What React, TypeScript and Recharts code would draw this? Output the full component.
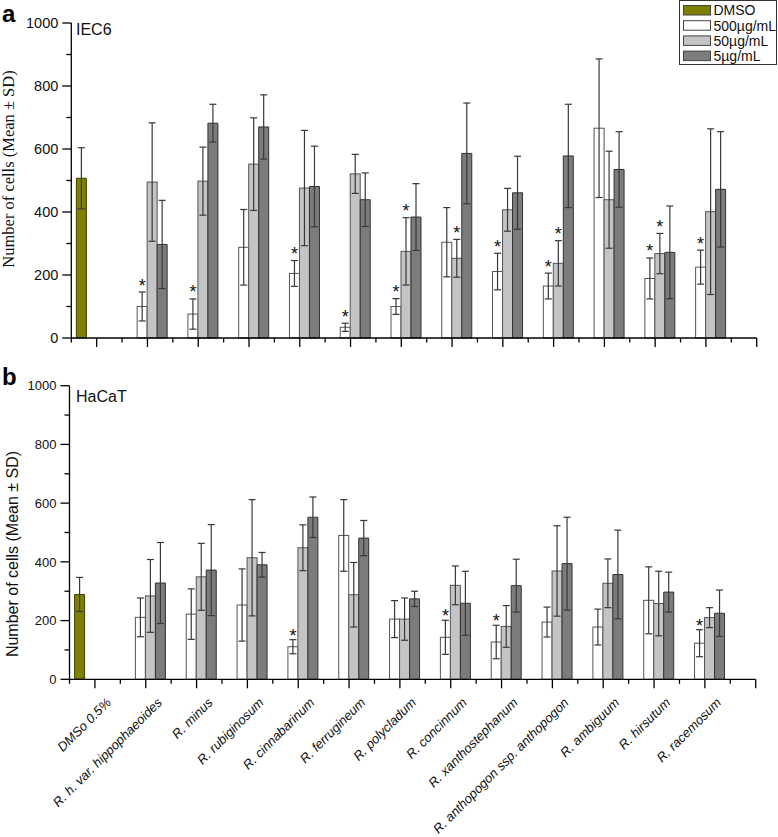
import React from "react";
import { BarChart, Bar, XAxis, YAxis, ErrorBar, Legend } from "recharts";

const CATEGORIES = [
  "DMSo 0.5%",
  "R. h. var. hippophaeoides",
  "R. minus",
  "R. rubiginosum",
  "R. cinnabarinum",
  "R. ferrugineum",
  "R. polycladum",
  "R. concinnum",
  "R. xanthostephanum",
  "R. anthopogon ssp. anthopogon",
  "R. ambiguum",
  "R. hirsutum",
  "R. racemosum",
];

const Y_TICKS = [0, 100, 200, 300, 400, 500, 600, 700, 800, 900, 1000];

// IEC6 (panel a)
const IEC6_DMSO = [507, null, null, null, null, null, null, null, null, null, null, null, null];
const IEC6_DMSO_SD = [97, null, null, null, null, null, null, null, null, null, null, null, null];
const IEC6_500 = [null, 100, 76, 288, 205, 34, 100, 304, 211, 165, 666, 189, 225];
const IEC6_500_SD = [null, 46, 48, 120, 41, 13, 25, 110, 58, 41, 220, 65, 54];
const IEC6_500_STAR = [false, true, true, false, true, true, true, false, true, true, false, true, true];
const IEC6_50 = [null, 495, 498, 552, 476, 521, 275, 253, 407, 237, 439, 268, 401];
const IEC6_50_SD = [null, 188, 108, 147, 183, 62, 107, 60, 68, 72, 154, 64, 263];
const IEC6_50_STAR = [false, false, false, false, false, false, true, true, false, true, false, true, false];
const IEC6_5 = [null, 297, 682, 670, 481, 439, 384, 586, 461, 578, 535, 272, 472];
const IEC6_5_SD = [null, 140, 60, 102, 128, 85, 106, 160, 116, 164, 120, 147, 183];

// HaCaT (panel b)
const HACAT_DMSO = [289, null, null, null, null, null, null, null, null, null, null, null, null];
const HACAT_DMSO_SD = [58, null, null, null, null, null, null, null, null, null, null, null, null];
const HACAT_500 = [null, 211, 222, 253, 111, 490, 205, 143, 127, 195, 178, 269, 123];
const HACAT_500_SD = [null, 66, 86, 123, 24, 122, 63, 58, 57, 51, 61, 114, 46];
const HACAT_500_STAR = [false, false, false, false, true, false, false, true, true, false, false, false, true];
const HACAT_50 = [null, 284, 349, 414, 448, 288, 205, 320, 180, 369, 327, 258, 210];
const HACAT_50_SD = [null, 124, 114, 198, 78, 110, 72, 66, 71, 154, 83, 110, 34];
const HACAT_50_STAR = [false, false, false, false, false, false, false, false, false, false, false, false, false];
const HACAT_5 = [null, 328, 372, 390, 552, 481, 274, 259, 319, 394, 357, 297, 225];
const HACAT_5_SD = [null, 138, 155, 42, 69, 60, 26, 109, 90, 158, 151, 68, 79];

const OLIVE = "#7f7f00";
const LIGHT = "#c4c4c4";
const DARK = "#7c7c7c";
const ERR = "#383838";
const SANS = "'Liberation Sans', Arial, sans-serif";
const SERIF = "'Liberation Serif', 'Times New Roman', serif";

const LEGEND_ITEMS = [
  { label: "DMSO", fill: OLIVE },
  { label: "500µg/mL", fill: "#ffffff" },
  { label: "50µg/mL", fill: LIGHT },
  { label: "5µg/mL", fill: DARK },
];

type Num = number | null;

function buildRows(
  dmso: Num[], dmsoSd: Num[],
  a: Num[], aSd: Num[], aStar: boolean[],
  b: Num[], bSd: Num[], bStar: boolean[],
  c: Num[], cSd: Num[],
) {
  return CATEGORIES.map((name, i) => ({
    name,
    dmso: dmso[i],
    dmsoSd: dmsoSd[i],
    c500: a[i],
    c500Sd: aSd[i],
    c500Star: aStar[i],
    c50: b[i],
    c50Sd: bSd[i],
    c50Star: bStar[i],
    c5: c[i],
    c5Sd: cSd[i],
  }));
}

const iec6Rows = buildRows(
  IEC6_DMSO, IEC6_DMSO_SD,
  IEC6_500, IEC6_500_SD, IEC6_500_STAR,
  IEC6_50, IEC6_50_SD, IEC6_50_STAR,
  IEC6_5, IEC6_5_SD,
);
const hacatRows = buildRows(
  HACAT_DMSO, HACAT_DMSO_SD,
  HACAT_500, HACAT_500_SD, HACAT_500_STAR,
  HACAT_50, HACAT_50_SD, HACAT_50_STAR,
  HACAT_5, HACAT_5_SD,
);

// bar rect plus the significance star sitting above its error cap
const starShape = (key: string, lift: number) => (props: any) => {
  const { x, y, width, height, fill, stroke, strokeWidth, payload } = props;
  if (!width || height == null) return <g />;
  const v = payload[key];
  const sd = payload[key + "Sd"] ?? 0;
  const star = payload[key + "Star"] && v;
  const capY = star ? y - (sd * height) / v : 0;
  return (
    <g>
      <rect x={x} y={y} width={width} height={height} fill={fill} stroke={stroke} strokeWidth={strokeWidth} />
      {star && (
        <text x={x + width / 2} y={capY - lift} textAnchor="middle" fontSize={18} fontFamily={SANS} fill="#111">
          *
        </text>
      )}
    </g>
  );
};

const YTick = (props: any) => {
  const { x, y, payload, fontSize } = props;
  const major = payload.value % 200 === 0;
  return (
    <g>
      <line x1={x - (major ? 9 : 5)} x2={x} y1={y} y2={y} stroke="#000" strokeWidth={1.3} />
      {major && (
        <text x={x - 13} y={y} dy="0.36em" textAnchor="end" fontSize={fontSize} fontFamily={SANS} fill="#111">
          {payload.value}
        </text>
      )}
    </g>
  );
};

const XTick = (props: any) => {
  const { x, y, payload, index, half, showLabel } = props;
  const last = index === CATEGORIES.length - 1;
  return (
    <g stroke="#000" strokeWidth={1.3}>
      <line x1={x} x2={x} y1={y} y2={y + 9} />
      <line x1={x - half} x2={x - half} y1={y} y2={y + 4.5} />
      {last && <line x1={x + half} x2={x + half} y1={y} y2={y + 4.5} />}
      {last && <line x1={x + 2 * half} x2={x + 2 * half} y1={y} y2={y + 9} />}
      {showLabel && (
        <text
          transform={`translate(${x + 17},${y + 24}) rotate(-45)`}
          textAnchor="end"
          fontSize={13}
          fontStyle="italic"
          fontFamily={SANS}
          fill="#111"
          stroke="none"
        >
          {payload.value}
        </text>
      )}
    </g>
  );
};

const LegendBox = () => (
  <svg width={98} height={66}>
    <rect x={0.5} y={0.5} width={97} height={64} fill="#fff" stroke="#333" strokeWidth={1} />
    {LEGEND_ITEMS.map((it, i) => (
      <g key={it.label}>
        <rect x={4.5} y={5.5 + i * 15.2} width={27} height={9.5} fill={it.fill} stroke="#444" strokeWidth={1} />
        <text x={34.5} y={10.3 + i * 15.2} dy="0.36em" fontSize={14} fontFamily={SANS} fill="#111">
          {it.label}
        </text>
      </g>
    ))}
  </svg>
);

type PanelProps = {
  rows: any[];
  width: number;
  height: number;
  margin: { top: number; right: number; bottom: number; left: number };
  yAxisWidth: number;
  xAxisHeight: number;
  tickFont: number;
  showLabels: boolean;
  starLift: number;
  legend?: boolean;
};

const Panel = (p: PanelProps) => {
  const plotWidth = p.width - p.margin.left - p.margin.right - p.yAxisWidth;
  const half = plotWidth / (CATEGORIES.length + 0.5) / 2;
  return (
    <BarChart
      width={p.width}
      height={p.height}
      data={p.rows}
      margin={p.margin}
      barCategoryGap="10%"
      barGap={0}
    >
      <XAxis
        dataKey="name"
        interval={0}
        height={p.xAxisHeight}
        padding={{ left: 0, right: half }}
        tickSize={0}
        tickMargin={0}
        axisLine={{ stroke: "#000", strokeWidth: 1.3 }}
        tick={(t: any) => <XTick {...t} half={half} showLabel={p.showLabels} />}
      />
      <YAxis
        width={p.yAxisWidth}
        domain={[0, 1000]}
        ticks={Y_TICKS}
        interval={0}
        tickSize={0}
        tickMargin={0}
        axisLine={{ stroke: "#000", strokeWidth: 1.3 }}
        tick={(t: any) => <YTick {...t} fontSize={p.tickFont} />}
      />
      {p.legend && (
        <Legend
          layout="horizontal"
          verticalAlign="middle"
          align="center"
          wrapperStyle={{ top: 0, left: 679, width: 98, height: 66 }}
          content={() => <LegendBox />}
        />
      )}
      <Bar dataKey="dmso" fill={OLIVE} stroke="#3f3f00" strokeWidth={1} isAnimationActive={false}>
        <ErrorBar dataKey="dmsoSd" width={3.5} stroke={ERR} strokeWidth={1.2} direction="y" />
      </Bar>
      <Bar
        dataKey="c500"
        fill="#ffffff"
        stroke="#555"
        strokeWidth={1}
        isAnimationActive={false}
        shape={starShape("c500", p.starLift)}
      >
        <ErrorBar dataKey="c500Sd" width={3.5} stroke={ERR} strokeWidth={1.2} direction="y" />
      </Bar>
      <Bar
        dataKey="c50"
        fill={LIGHT}
        stroke="#555"
        strokeWidth={1}
        isAnimationActive={false}
        shape={starShape("c50", p.starLift)}
      >
        <ErrorBar dataKey="c50Sd" width={3.5} stroke={ERR} strokeWidth={1.2} direction="y" />
      </Bar>
      <Bar dataKey="c5" fill={DARK} stroke="#333" strokeWidth={1} isAnimationActive={false}>
        <ErrorBar dataKey="c5Sd" width={3.5} stroke={ERR} strokeWidth={1.2} direction="y" />
      </Bar>
    </BarChart>
  );
};

export default function App() {
  return (
    <div style={{ position: "absolute", left: 0, top: 0, width: 778, height: 837, background: "#fff" }}>
      <div style={{ position: "absolute", left: 0, top: 0 }}>
        <Panel
          rows={iec6Rows}
          width={778}
          height={352}
          margin={{ top: 23, right: 21.3, bottom: 4, left: 0 }}
          yAxisWidth={71.3}
          xAxisHeight={10}
          tickFont={14.5}
          showLabels={false}
          starLift={0.5}
          legend
        />
      </div>
      <div style={{ position: "absolute", left: 0, top: 360 }}>
        <Panel
          rows={hacatRows}
          width={778}
          height={477}
          margin={{ top: 25.7, right: 22.3, bottom: 0, left: 0 }}
          yAxisWidth={69.5}
          xAxisHeight={157.7}
          tickFont={13}
          showLabels
          starLift={-2}
        />
      </div>
      <svg
        width={778}
        height={837}
        style={{ position: "absolute", left: 0, top: 0, pointerEvents: "none" }}
      >
        <text x={2} y={22} fontSize={24} fontWeight="bold" fontFamily={SANS} fill="#000">a</text>
        <text x={2} y={385} fontSize={24} fontWeight="bold" fontFamily={SANS} fill="#000">b</text>
        <text x={76} y={34.5} fontSize={16} fontFamily={SANS} fill="#111">IEC6</text>
        <text x={76} y={402} fontSize={16} fontFamily={SANS} fill="#111">HaCaT</text>
        <text
          transform="translate(14,169) rotate(-90)"
          textAnchor="middle"
          fontSize={16.5}
          fontFamily={SERIF}
          fill="#111"
        >
          Number of cells (Mean ± SD)
        </text>
        <text
          transform="translate(18,554) rotate(-90)"
          textAnchor="middle"
          fontSize={16}
          fontFamily={SANS}
          fill="#111"
        >
          Number of cells (Mean ± SD)
        </text>
      </svg>
    </div>
  );
}
